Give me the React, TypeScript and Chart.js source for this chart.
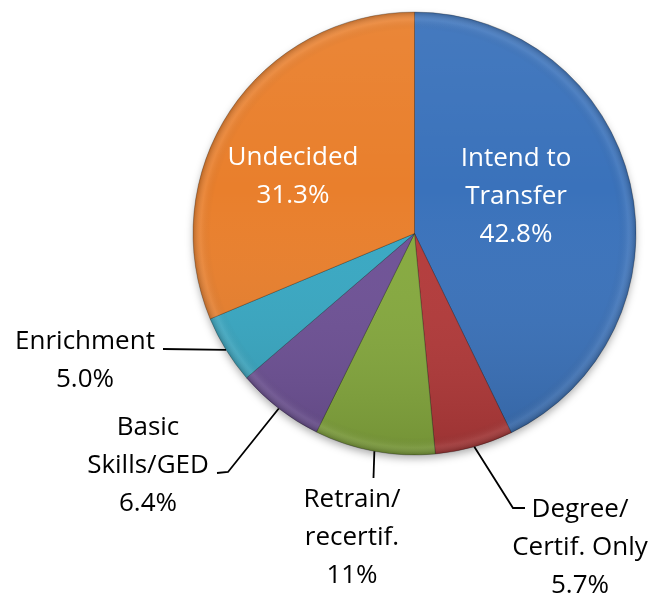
import React, { useEffect, useRef } from "react";
import { Chart, registerables } from "chart.js";

Chart.register(...registerables);

const categories = [
  "Intend to Transfer",
  "Degree/Certif. Only",
  "Retrain/recertif.",
  "Basic Skills/GED",
  "Enrichment",
  "Undecided",
];
const values = [42.8, 5.7, 8.8, 6.4, 5.0, 31.3];
const percentLabels = ["42.8%", "5.7%", "11%", "6.4%", "5.0%", "31.3%"];
const labelLines = [
  ["Intend to", "Transfer"],
  ["Degree/", "Certif. Only"],
  ["Retrain/", "recertif."],
  ["Basic", "Skills/GED"],
  ["Enrichment"],
  ["Undecided"],
];
const sliceColors = ["#3a72bb", "#b43a3a", "#86aa3e", "#6e5196", "#38a8c3", "#e97f2c"];

// label layout (offsets from pie centre, px)
const labelLayout = [
  { dx: 101.5, dy: -38, color: "#ffffff", leader: null as null | number[][] },
  { dx: 165.5, dy: 313, color: "#000000", leader: [[98.5, 274.5], [110.5, 274.5]] },
  { dx: -62.5, dy: 303.5, color: "#000000", leader: [[-41, 244.5]] },
  { dx: -266.5, dy: 231, color: "#000000", leader: [[-186.5, 238.5], [-197.5, 239.5]] },
  { dx: -329.5, dy: 126, color: "#000000", leader: [[-251.5, 115.5]] },
  { dx: -121.5, dy: -58, color: "#ffffff", leader: null as null | number[][] },
];

const FONT = "26px 'Open Sans', Lato, sans-serif";
const LINE_H = 38;

const piePlugin = {
  id: "pieDecor",
  beforeDatasetsDraw(chart: any) {
    const meta = chart.getDatasetMeta(0);
    const el = meta.data[0];
    if (!el) return;
    const { x, y, outerRadius } = el.getProps(["x", "y", "outerRadius"], true);
    const ctx = chart.ctx;
    ctx.save();
    ctx.shadowColor = "rgba(0,0,0,0.35)";
    ctx.shadowBlur = 9;
    ctx.shadowOffsetY = 4;
    ctx.beginPath();
    ctx.arc(x, y, outerRadius - 1, 0, Math.PI * 2);
    ctx.fillStyle = "#888";
    ctx.fill();
    ctx.restore();
  },
  afterDatasetsDraw(chart: any) {
    const meta = chart.getDatasetMeta(0);
    const ctx = chart.ctx;
    const first = meta.data[0];
    if (!first) return;
    const { x: cx, y: cy, outerRadius: R } = first.getProps(["x", "y", "outerRadius"], true);

    // shading overlays
    ctx.save();
    ctx.beginPath();
    ctx.arc(cx, cy, R, 0, Math.PI * 2);
    ctx.clip();
    const lin = ctx.createLinearGradient(0, cy - R, 0, cy + R);
    lin.addColorStop(0, "rgba(255,255,255,0.06)");
    lin.addColorStop(0.4, "rgba(255,255,255,0)");
    lin.addColorStop(1, "rgba(0,0,0,0.14)");
    ctx.fillStyle = lin;
    ctx.fillRect(cx - R, cy - R, 2 * R, 2 * R);
    const rad = ctx.createRadialGradient(cx, cy, 0, cx, cy, R);
    rad.addColorStop(0, "rgba(0,0,0,0)");
    rad.addColorStop(0.92, "rgba(0,0,0,0)");
    rad.addColorStop(0.965, "rgba(255,255,255,0.08)");
    rad.addColorStop(1, "rgba(0,0,0,0.2)");
    ctx.fillStyle = rad;
    ctx.fillRect(cx - R, cy - R, 2 * R, 2 * R);
    ctx.restore();

    // labels and leader lines
    ctx.save();
    ctx.font = FONT;
    ctx.textAlign = "center";
    ctx.textBaseline = "middle";
    meta.data.forEach((arc: any, i: number) => {
      const p = arc.getProps(["x", "y", "startAngle", "endAngle", "outerRadius"], true);
      const mid = (p.startAngle + p.endAngle) / 2;
      const lay = labelLayout[i];
      if (lay.leader) {
        ctx.beginPath();
        ctx.moveTo(p.x + Math.cos(mid) * p.outerRadius, p.y + Math.sin(mid) * p.outerRadius);
        lay.leader.forEach((pt) => ctx.lineTo(p.x + pt[0], p.y + pt[1]));
        ctx.strokeStyle = "#000";
        ctx.lineWidth = 1.8;
        ctx.stroke();
      }
      const lines = [...labelLines[i], percentLabels[i]];
      const tx = p.x + lay.dx;
      const ty0 = p.y + lay.dy - ((lines.length - 1) * LINE_H) / 2;
      ctx.fillStyle = lay.color;
      lines.forEach((t, k) => ctx.fillText(t, tx, ty0 + k * LINE_H + 1));
    });
    ctx.restore();
  },
};

export default function App() {
  const ref = useRef<HTMLCanvasElement | null>(null);
  useEffect(() => {
    if (!ref.current) return;
    const chart = new Chart(ref.current, {
      type: "pie",
      data: {
        labels: categories,
        datasets: [
          {
            data: values,
            backgroundColor: sliceColors,
            borderColor: "rgba(0,0,0,0.25)",
            borderWidth: 1,
          },
        ],
      },
      options: {
        animation: false,
        responsive: false,
        maintainAspectRatio: false,
        layout: { padding: { left: 192.5, top: 11.5, right: 19.5, bottom: 140.5 } },
        plugins: { legend: { display: false }, tooltip: { enabled: false } },
      },
      plugins: [piePlugin],
    });
    return () => chart.destroy();
  }, []);
  return (
    <div style={{ position: "fixed", left: 0, top: 0, width: 656, height: 596, background: "#fff" }}>
      <canvas ref={ref} width={656} height={596} style={{ width: 656, height: 596 }} />
    </div>
  );
}
